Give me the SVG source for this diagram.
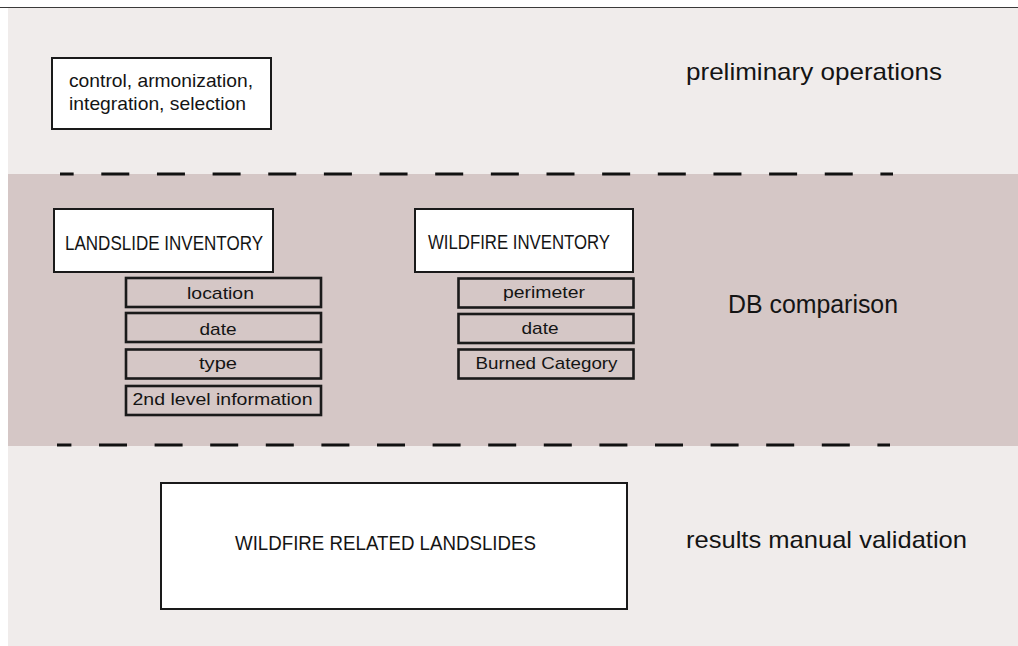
<svg xmlns="http://www.w3.org/2000/svg" width="1018" height="646" viewBox="0 0 1018 646">
  <style>
    text { font-family: "Liberation Sans", Arial, sans-serif; fill: #141414; }
    .box { fill: #ffffff; stroke: #1a1a1a; stroke-width: 2; }
    .field { fill: none; stroke: #1a1a1a; stroke-width: 2.6; }
    .sep { stroke: #111111; stroke-width: 3; fill: none; }
    .stage { font-size: 24px; }
    .head { font-size: 20.5px; }
    .fld { font-size: 17px; text-anchor: middle; }
  </style>

  <!-- page background and bands -->
  <rect x="0" y="0" width="1018" height="646" fill="#ffffff"/>
  <rect x="8" y="8" width="1010" height="638" fill="#f0eceb"/>
  <rect x="8" y="174" width="1010" height="272" fill="#d5c7c6"/>
  <line x1="0" y1="7.5" x2="1018" y2="7.5" stroke="#3a3a3a" stroke-width="1"/>

  <!-- stage separators -->
  <g id="connectors">
    <line class="sep" x1="60" y1="174" x2="893" y2="174" stroke-dasharray="28 27.65" stroke-dashoffset="14.35"/>
    <line class="sep" x1="57" y1="445" x2="890" y2="445" stroke-dasharray="28 27.6" stroke-dashoffset="13.6"/>
  </g>

  <!-- stage labels -->
  <g id="stage-labels">
    <text class="stage" x="686" y="79.5" textLength="256" lengthAdjust="spacingAndGlyphs">preliminary operations</text>
    <text x="728" y="312.5" font-size="26.5" textLength="170" lengthAdjust="spacingAndGlyphs">DB comparison</text>
    <text class="stage" x="686" y="547.5" textLength="281" lengthAdjust="spacingAndGlyphs">results manual validation</text>
  </g>

  <g id="preliminary">
    <rect class="box" x="52" y="58" width="219" height="71"/>
    <text x="69" y="87" font-size="18.5" textLength="184" lengthAdjust="spacingAndGlyphs">control, armonization,</text>
    <text x="69" y="110" font-size="18.5" textLength="177" lengthAdjust="spacingAndGlyphs">integration, selection</text>
  </g>

  <g id="landslide-inventory">
    <rect class="box" x="54" y="209" width="219" height="63"/>
    <text class="head" x="65" y="249.5" textLength="198" lengthAdjust="spacingAndGlyphs">LANDSLIDE INVENTORY</text>
  </g>
  <g id="ls-location">
    <rect class="field" x="126" y="278" width="195" height="29"/>
    <text class="fld" x="220.5" y="298.5" textLength="67" lengthAdjust="spacingAndGlyphs">location</text>
  </g>
  <g id="ls-date">
    <rect class="field" x="126" y="313" width="195" height="29"/>
    <text class="fld" x="218" y="334.5" textLength="37" lengthAdjust="spacingAndGlyphs">date</text>
  </g>
  <g id="ls-type">
    <rect class="field" x="126" y="349.5" width="195" height="29"/>
    <text class="fld" x="218" y="368.5" textLength="38" lengthAdjust="spacingAndGlyphs">type</text>
  </g>
  <g id="ls-second-level">
    <rect class="field" x="126" y="386" width="195" height="29"/>
    <text class="fld" x="222.5" y="405" textLength="180" lengthAdjust="spacingAndGlyphs">2nd level information</text>
  </g>

  <g id="wildfire-inventory">
    <rect class="box" x="415" y="209" width="218" height="63"/>
    <text class="head" x="428" y="249" textLength="182" lengthAdjust="spacingAndGlyphs">WILDFIRE INVENTORY</text>
  </g>
  <g id="wf-perimeter">
    <rect class="field" x="458.5" y="278.5" width="175" height="29"/>
    <text class="fld" x="544" y="297.5" textLength="82" lengthAdjust="spacingAndGlyphs">perimeter</text>
  </g>
  <g id="wf-date">
    <rect class="field" x="458.5" y="314" width="175" height="29"/>
    <text class="fld" x="540" y="333.5" textLength="37" lengthAdjust="spacingAndGlyphs">date</text>
  </g>
  <g id="wf-burned">
    <rect class="field" x="458.5" y="349.5" width="175" height="29"/>
    <text class="fld" x="546.5" y="369" textLength="142" lengthAdjust="spacingAndGlyphs">Burned Category</text>
  </g>

  <g id="results">
    <rect class="box" x="161" y="483" width="466" height="126"/>
    <text x="235" y="550" font-size="20.5" textLength="301" lengthAdjust="spacingAndGlyphs">WILDFIRE RELATED LANDSLIDES</text>
  </g>
</svg>
